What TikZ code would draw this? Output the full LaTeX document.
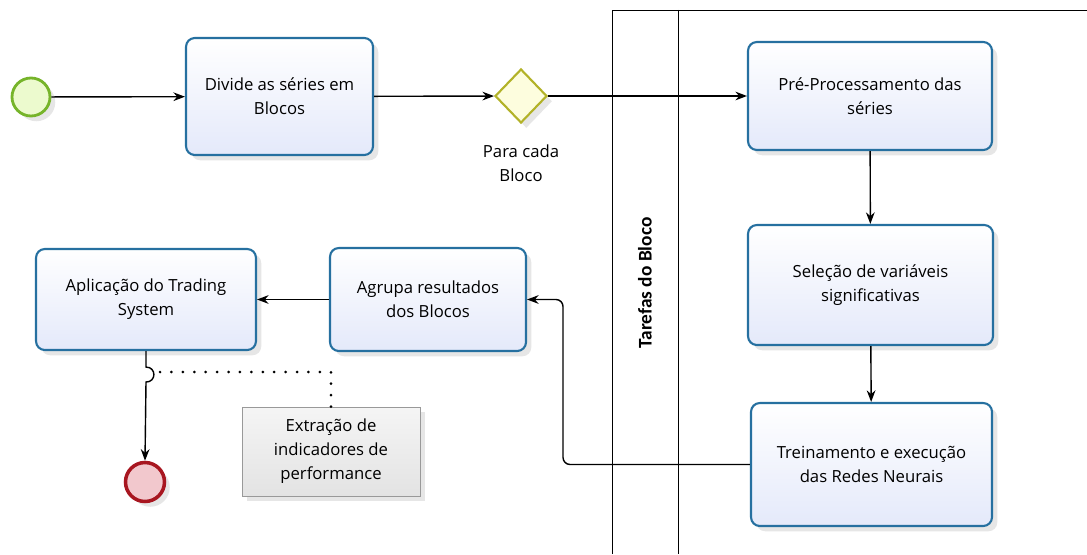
\documentclass[tikz,border=0pt]{standalone}
\usepackage{fontspec}
\setmainfont{Open Sans}
\newfontfamily\lanefont{Carlito}
\usetikzlibrary{positioning,shapes.geometric,shadows,arrows.meta}
\definecolor{boxblue}{RGB}{38,112,160}
\definecolor{taskfill}{RGB}{228,233,250}
\definecolor{startgreen}{RGB}{118,180,42}
\definecolor{startfill}{RGB}{236,250,206}
\definecolor{endred}{RGB}{168,22,32}
\definecolor{endfill}{RGB}{242,200,205}
\definecolor{gateolive}{RGB}{178,178,40}
\definecolor{gatefill}{RGB}{253,253,222}

\begin{document}
\begin{tikzpicture}[x=0.02cm,y=-0.02cm,>=Stealth,font=\fontsize{9.5}{13.6}\selectfont,
 task/.style={draw=boxblue,line width=1.2pt,rounded corners=5pt,top color=white,bottom color=taskfill,align=center,
   drop shadow={opacity=0.2,shadow xshift=3pt,shadow yshift=-3pt}},
 event/.style={circle,inner sep=0pt,drop shadow={opacity=0.2,shadow xshift=3pt,shadow yshift=-3pt}},
 gate/.style={diamond,aspect=1,inner sep=0pt,minimum width=1.04cm,minimum height=1.08cm,draw=gateolive,line width=1.2pt,fill=gatefill,
   drop shadow={opacity=0.2,shadow xshift=3pt,shadow yshift=-3pt}},
 note/.style={draw=gray!80,line width=0.5pt,top color=gray!8,bottom color=gray!22,align=center,
   drop shadow={opacity=0.2,shadow xshift=3pt,shadow yshift=-3pt}},
 flow/.style={->,line width=0.8pt},
 assoc/.style={line width=1.7pt,dash pattern=on 0pt off 6.5pt,line cap=round}]
\useasboundingbox (0,0) rectangle (1087,554);

\draw[line width=0.5pt] (612,554) -- (612,10) -- (1087,10);
\draw[line width=0.5pt] (678,10) -- (678,554);
\node (lane) [rotate=90,font=\lanefont\bfseries\fontsize{11}{12}\selectfont] at (645,283) {Tarefas do Bloco};

\node (start) [event,draw=startgreen,line width=1.6pt,fill=startfill,minimum size=0.76cm] at (31,97) {};
\node (div) [task,minimum width=3.74cm,minimum height=2.34cm] at (279.5,96.5) {Divide as séries em\\Blocos};
\node (gw) [gate] at (521,96) {};
\node (gwl) [below=0.3cm of gw,align=center] {Para cada\\Bloco};
\node (pre) [task,minimum width=4.88cm,minimum height=2.16cm] at (870,96) {Pré-Processamento das\\séries};
\node (sel) [task,minimum width=4.9cm,minimum height=2.4cm] at (870.5,285) {Seleção de variáveis\\significativas};
\node (tr) [task,minimum width=4.82cm,minimum height=2.46cm] at (871.5,464.5) {Treinamento e execução\\das Redes Neurais};
\node (ag) [task,minimum width=3.92cm,minimum height=2.06cm] at (428,299.5) {Agrupa resultados\\dos Blocos};
\node (ap) [task,minimum width=4.4cm,minimum height=2.02cm] at (146,299.5) {Aplicação do Trading\\System};
\node (end) [event,draw=endred,line width=2pt,fill=endfill,minimum size=0.78cm] at (145,482) {};
\node (ann) [note,minimum width=3.56cm,minimum height=1.78cm] at (331,451.5) {Extração de\\indicadores de\\performance};

\coordinate (turn) at (563,299.5);
\coordinate (a1) at (160,372);

\draw [flow] (start)--(div);
\draw [flow] (div)--(gw);
\draw [flow] (gw)--(pre);
\draw [flow] (pre)--(sel);
\draw [flow] (sel)--(tr);
\draw [flow,rounded corners=4pt] (tr.west) -| (turn) -- (ag.east);
\draw [flow] (ag)--(ap);
\draw [flow] (ap.south) -- ++(0,16) to[out=0,in=0,looseness=1.8] ++(0,15) -- (end.north);
\draw [assoc] (a1) -| (ann.north);
\end{tikzpicture}
\end{document}
